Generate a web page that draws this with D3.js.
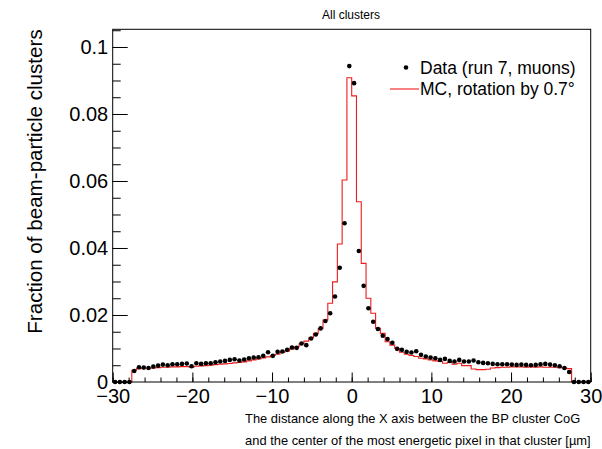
<!DOCTYPE html>
<html>
<head>
<meta charset="utf-8">
<script src="https://cdn.jsdelivr.net/npm/d3@7"></script>
<style>
  body { margin: 0; background: #fff; }
  svg { display: block; font-family: "Liberation Sans", Arial, sans-serif; }
</style>
</head>
<body>
<svg id="chart"></svg>
<script>
// bins: 100 bins of 0.6 um between -30 and 30 (values in units of 1e-3)
const binEdges = d3.range(101).map(i => -30 + i * 0.6);

const dataValues = [
  0, 0, 0, 0, 3.3, 4.4, 4.3, 4.2, 4.6, 4.9,
  5.2, 5.0, 5.3, 5.3, 5.4, 5.5, 4.7, 5.6, 5.4, 5.6,
  5.6, 5.9, 6.1, 6.3, 6.6, 6.8, 6.4, 6.7, 7.1, 7.3,
  7.4, 7.8, 8.9, 7.8, 9.0, 9.1, 9.6, 10.3, 10.2, 11.5,
  11.0, 13.0, 14.2, 16.0, 18.2, 20.5, 25.5, 34.1, 47.4, 94.3,
  89.2, 39.1, 28.7, 22.0, 18.0, 15.8, 13.8, 12.8, 11.7, 9.9,
  9.6, 9.0, 8.8, 9.2, 8.1, 7.6, 7.3, 7.1, 6.6, 6.9,
  6.3, 6.1, 6.6, 6.1, 6.1, 6.4, 5.9, 5.7, 5.6, 5.4,
  5.3, 5.3, 5.3, 5.2, 5.1, 5.2, 5.1, 5.0, 5.1, 5.3,
  5.4, 5.2, 5.0, 4.7, 4.2, 3.0, 0, 0, 0, 0
];

const mcValues = [
  0, 0, 0, 0, 3.5, 4.0, 4.1, 4.1, 4.2, 4.3,
  4.4, 4.4, 4.5, 4.5, 4.6, 4.6, 4.4, 4.7, 4.8, 4.9,
  5.0, 5.2, 5.3, 5.4, 5.5, 5.7, 5.8, 6.0, 6.3, 6.6,
  6.9, 7.2, 7.5, 7.9, 8.3, 8.8, 9.3, 9.9, 10.5, 11.4,
  12.2, 13.2, 14.5, 16.0, 18.5, 23.5, 29.9, 41.2, 60.3, 90.8,
  85.4, 53.8, 35.4, 25.0, 20.5, 16.0, 14.5, 12.0, 11.0, 10.0,
  8.9, 8.3, 7.9, 7.6, 7.1, 6.9, 6.6, 6.3, 6.1, 5.6,
  5.8, 5.3, 5.6, 4.9, 4.9, 3.9, 3.7, 3.7, 3.8, 4.2,
  4.3, 4.4, 4.4, 4.5, 4.5, 4.5, 4.4, 4.5, 4.4, 4.5,
  4.4, 4.4, 4.4, 4.3, 4.2, 4.0, 0, 0, 0, 0
];

const xTicks = [-30, -20, -10, 0, 10, 20, 30];
const xMinorTicks = d3.range(-30, 30.01, 2);
const yTicks = [0, 0.02, 0.04, 0.06, 0.08, 0.1];
const yMinorTicks = d3.range(0, 0.1051, 0.005);

const legendLabels = ["Data (run 7, muons)", "MC, rotation by 0.7\u00b0"];

const margin = { top: 29.3, right: 11.3, bottom: 67, left: 112.7 },
      width = 602 - margin.left - margin.right,
      height = 449 - margin.top - margin.bottom;

const root = d3.select("#chart")
    .attr("width", 602)
    .attr("height", 449);

const svg = root.append("g")
    .attr("transform", `translate(${margin.left},${margin.top})`);

const x = d3.scaleLinear().domain([-30, 30]).range([0, width]);
const y = d3.scaleLinear().domain([0, 0.10528]).range([height, 0]);

const bins = dataValues.map((v, i) => ({
    x0: binEdges[i],
    x1: binEdges[i + 1],
    center: (binEdges[i] + binEdges[i + 1]) / 2,
    data: v / 1000,
    mc: mcValues[i] / 1000
}));

// MC histogram outline
const stepPts = [[x(-30), y(0)]];
bins.forEach(b => {
    stepPts.push([x(b.x0), y(b.mc)]);
    stepPts.push([x(b.x1), y(b.mc)]);
});
stepPts.push([x(30), y(0)]);

svg.append("path")
    .attr("d", d3.line()(stepPts))
    .attr("fill", "none")
    .attr("stroke", "#ee1c1c")
    .attr("stroke-width", 1.1);

// data points
svg.selectAll(".dot")
    .data(bins)
    .enter().append("circle")
    .attr("class", "dot")
    .attr("cx", d => x(d.center))
    .attr("cy", d => y(d.data))
    .attr("r", 2.3)
    .attr("fill", "#000");

// axes (ticks inside the frame)
const minus = d => d < 0 ? "\u2212" + Math.abs(d) : String(d);

svg.append("g")
    .attr("transform", `translate(0,${height})`)
    .call(d3.axisBottom(x).tickValues(xMinorTicks).tickSize(-4.5).tickFormat(""))
    .call(g => g.select(".domain").remove());

svg.append("g")
    .attr("transform", `translate(0,${height})`)
    .call(d3.axisBottom(x).tickValues(xTicks).tickSize(-9.5).tickPadding(6.5).tickFormat(minus))
    .call(g => g.select(".domain").remove())
    .selectAll("text")
    .style("font-size", "20px")
    .style("font-family", "Liberation Sans, Arial, sans-serif");

svg.append("g")
    .call(d3.axisLeft(y).tickValues(yMinorTicks).tickSize(-8).tickFormat(""))
    .call(g => g.select(".domain").remove());

svg.append("g")
    .call(d3.axisLeft(y).tickValues(yTicks).tickSize(-15).tickPadding(4.5)
        .tickFormat(d => String(+d.toFixed(2))))
    .call(g => g.select(".domain").remove())
    .selectAll("text")
    .style("font-size", "20px")
    .style("font-family", "Liberation Sans, Arial, sans-serif");

svg.selectAll(".tick line").attr("stroke", "#000");

// frame
svg.append("rect")
    .attr("width", width)
    .attr("height", height)
    .attr("fill", "none")
    .attr("stroke", "#000")
    .attr("stroke-width", 1);

// title
root.append("text")
    .attr("x", 351)
    .attr("y", 19)
    .attr("text-anchor", "middle")
    .style("font-size", "12px")
    .text("All clusters");

// y title
root.append("text")
    .attr("transform", `translate(41.7,${margin.top}) rotate(-90)`)
    .attr("text-anchor", "end")
    .style("font-size", "20.6px")
    .text("Fraction of beam-particle clusters");

// x title, two lines, block right-aligned to the axis end
const t2 = root.append("text")
    .attr("y", 445)
    .style("font-size", "12.9px")
    .text("and the center of the most energetic pixel in that cluster [\u00b5m]");
const len2 = t2.node().getComputedTextLength();
const xStart = margin.left + width - len2;
t2.attr("x", xStart);
root.append("text")
    .attr("x", xStart)
    .attr("y", 423)
    .style("font-size", "12.9px")
    .text("The distance along the X axis between the BP cluster CoG");

// legend
const legend = root.append("g");
legend.append("circle")
    .attr("cx", 406)
    .attr("cy", 67.5)
    .attr("r", 2.3)
    .attr("fill", "#000");
legend.append("line")
    .attr("x1", 390).attr("x2", 419)
    .attr("y1", 89).attr("y2", 89)
    .attr("stroke", "#ee1c1c")
    .attr("stroke-width", 1.1);
legend.selectAll(".leg")
    .data(legendLabels)
    .enter().append("text")
    .attr("class", "leg")
    .attr("x", 420)
    .attr("y", (d, i) => 73.5 + i * 21.5)
    .style("font-size", "17.5px")
    .text(d => d);
</script>
</body>
</html>
